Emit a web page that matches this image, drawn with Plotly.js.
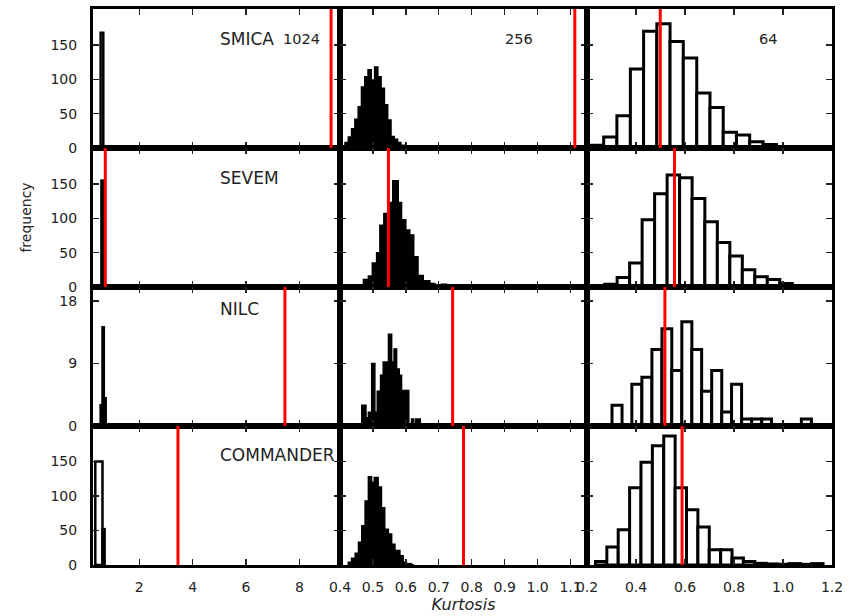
<!DOCTYPE html>
<html><head><meta charset="utf-8">
<script src="https://cdn.plot.ly/plotly-3.0.1.min.js"></script>
<style>html,body{margin:0;padding:0;background:#fff}#chart{width:859px;height:616px}</style>
</head><body><div id="chart"></div>
<script>
// ---- data ----
const methods = ['SMICA', 'SEVEM', 'NILC', 'COMMANDER'];
const resolutions = ['1024', '256', '64'];

// observed kurtosis (red lines) per method at resolutions [1024, 256, 64]
const obsSMICA = [9.19, 1.113, 0.499];
const obsSEVEM = [0.725, 0.547, 0.557];
const obsNILC = [7.46, 0.742, 0.518];
const obsCOMMANDER = [3.45, 0.775, 0.588];

// simulated kurtosis histograms: bin edges and counts
const smica1024Edges = [0.55, 0.65];
const smica1024Counts = [168];
const smica256Edges = [0.405,0.415,0.425,0.435,0.445,0.455,0.465,0.475,0.485,0.495,0.505,0.515,0.525,0.535,0.545,0.555,0.565,0.575,0.585,0.595,0.605];
const smica256Counts = [3,8,16,28,42,60,89,104,114,99,118,104,87,63,41,17,13,8,4,1];
const smica64Edges = [0.214,0.268,0.322,0.377,0.431,0.485,0.539,0.593,0.648,0.702,0.756,0.810,0.864,0.919,0.973];
const smica64Counts = [4,16,47,115,170,181,155,131,80,59,23,19,9,5];

const sevem1024Edges = [0.58, 0.65, 0.71];
const sevem1024Counts = [155, 12];
const sevem256Edges = [0.471,0.486,0.498,0.511,0.521,0.533,0.547,0.560,0.577,0.587,0.600,0.612,0.624,0.637,0.653,0.673,0.688,0.708,0.723,0.735];
const sevem256Counts = [11,16,35,50,90,107,123,155,123,98,83,76,44,17,9,5,2,4,1];
const sevem64Edges = [0.221,0.272,0.323,0.374,0.425,0.476,0.527,0.578,0.629,0.681,0.732,0.783,0.834,0.885,0.936,0.987,1.038,1.089,1.140];
const sevem64Counts = [1.5,4,14,35,98,136,163,159,129,95,65,45,25,15,11,5,1.5,1.5];

const nilc1024Edges = [0.55, 0.62, 0.67, 0.74];
const nilc1024Counts = [3, 14.2, 4];
const nilc256Edges = [0.466,0.479,0.486,0.496,0.506,0.513,0.523,0.531,0.547,0.557,0.564,0.572,0.580,0.587,0.597,0.609,0.617,0.624,0.630,0.644];
const nilc256Counts = [3,1.2,2,9,2,5,7.3,9.2,13.2,9.2,11.1,8.2,7.3,5.1,5.1,0,1,0,1];
const nilc64Edges = [0.302,0.343,0.383,0.424,0.465,0.506,0.546,0.587,0.628,0.668,0.709,0.750,0.790,0.831,0.872,0.913,0.953,0.994,1.035,1.075,1.116];
const nilc64Counts = [3,0,6,7,11,14,8,15,11,5,8,2,6,1,1,1,0,0,0,1];

const commander1024Edges = [0.35, 0.62, 0.70];
const commander1024Counts = [150, 52];
const commander256Edges = [0.425,0.435,0.446,0.456,0.466,0.476,0.486,0.496,0.504,0.516,0.526,0.536,0.547,0.557,0.567,0.582,0.592,0.602,0.617,0.622];
const commander256Counts = [4,10,17,33,57,93,128,120,127,113,83,52,45,30,21,13.5,4,2,0.5];
const commander64Edges = [0.2345,0.281,0.3274,0.3739,0.4203,0.4668,0.5132,0.5597,0.6061,0.6526,0.699,0.7455,0.7919,0.8384,0.8848,0.9313,0.9777,1.0242,1.0706,1.1171,1.1635];
const commander64Counts = [5,26,51,112,149,173,187,112,80,55,22,22,10,5,2.4,1.5,1,2,1,2];

// tick labels
const xTicksCol = [[2,4,6,8],[0.4,0.5,0.6,0.7,0.8,0.9,1.0,1.1],[0.2,0.4,0.6,0.8,1.0,1.2]];
const yTicksRow = [[0,50,100,150],[0,50,100,150],[0,9,18],[0,50,100,150]];

// ---- assembly ----
const hists = [
  [[smica1024Edges,smica1024Counts],[smica256Edges,smica256Counts],[smica64Edges,smica64Counts]],
  [[sevem1024Edges,sevem1024Counts],[sevem256Edges,sevem256Counts],[sevem64Edges,sevem64Counts]],
  [[nilc1024Edges,nilc1024Counts],[nilc256Edges,nilc256Counts],[nilc64Edges,nilc64Counts]],
  [[commander1024Edges,commander1024Counts],[commander256Edges,commander256Counts],[commander64Edges,commander64Counts]]
];
const observed = [obsSMICA, obsSEVEM, obsNILC, obsCOMMANDER];

const FONT = 'DejaVu Sans';
const PL = 93, PR = 832, PT = 9, PB = 565, WIDTH = 859, HEIGHT = 616;
const colPx = [93, 340, 587, 832];
const colDom = [0,1,2].map(c => [(colPx[c]-PL)/(PR-PL), (colPx[c+1]-PL)/(PR-PL)]);
const rowDom = [[0.75,1],[0.5,0.75],[0.25,0.5],[0,0.25]];
const xRanges = [[0.264, 9.525],[0.39999, 1.15],[0.19999, 1.20001]];
const yRanges = [[0,202.5],[0,202.5],[0,20],[0,201.5]];
const fills = ['#ffffff', '#000000', '#ffffff'];
const lineW = [2.5, 1.4, 3];

const data = [];
const layout = {
  width: WIDTH, height: HEIGHT,
  margin: {l: PL, r: WIDTH-PR, t: PT, b: HEIGHT-PB},
  paper_bgcolor: '#fff', plot_bgcolor: '#fff',
  showlegend: false, bargap: 0,
  font: {family: FONT, size: 14, color: '#222'},
  shapes: [], annotations: []
};

for (let r = 0; r < 4; r++) {
  for (let c = 0; c < 3; c++) {
    const n = r*3 + c + 1;
    const [edges, counts] = hists[r][c];
    const x = [], w = [];
    for (let i = 0; i < counts.length; i++) {
      x.push((edges[i] + edges[i+1]) / 2);
      w.push(edges[i+1] - edges[i]);
    }
    data.push({
      type: 'bar', x: x, y: counts, width: w,
      xaxis: 'x' + n, yaxis: 'y' + n,
      marker: {color: fills[c], line: {color: '#000', width: lineW[c]}},
      hoverinfo: 'skip'
    });
    const common = {
      ticks: 'inside', ticklen: 6, tickwidth: 1.3, tickcolor: '#222',
      showline: true, linewidth: 3, linecolor: '#000', mirror: 'allticks',
      showgrid: false, zeroline: false, fixedrange: true,
      tickfont: {family: FONT, size: 14, color: '#222'}
    };
    layout['xaxis' + n] = Object.assign({}, common, {
      domain: colDom[c], anchor: 'y' + n, range: xRanges[c],
      tickvals: xTicksCol[c], ticktext: xTicksCol[c].map(v => c === 0 ? String(v) : v.toFixed(1)),
      showticklabels: r === 3, ticklabelstandoff: 7
    });
    layout['yaxis' + n] = Object.assign({}, common, {
      domain: rowDom[r], anchor: 'x' + n, range: yRanges[r],
      tickvals: yTicksRow[r], ticktext: yTicksRow[r].map(String),
      showticklabels: c === 0, ticklabelstandoff: 10
    });
    layout.shapes.push({
      type: 'line', xref: 'x' + n, yref: 'y' + n + ' domain',
      x0: observed[r][c], x1: observed[r][c], y0: 0, y1: 1,
      line: {color: '#ff0000', width: 3}, layer: 'above'
    });
  }
}

layout.yaxis4.title = {text: 'frequency', font: {family: FONT, size: 14, color: '#222'}, standoff: 16};
layout.xaxis11.title = {text: '<i>Kurtosis</i>', font: {family: FONT, size: 16, color: '#222'}, standoff: 6};

const px2x = p => (p - PL) / (PR - PL);
const px2y = p => (PB - p) / (PB - PT);
function label(text, px, py, size) {
  layout.annotations.push({
    text: text, xref: 'paper', yref: 'paper', x: px2x(px), y: px2y(py),
    xanchor: 'left', yanchor: 'middle', showarrow: false,
    font: {family: FONT, size: size, color: '#222'}
  });
}
const methodY = [38.5, 178, 309, 454.5];
methods.forEach((m, r) => label(m, 218, methodY[r], 17));
label(resolutions[0], 281, 39, 14.5);
label(resolutions[1], 503, 39, 14.5);
label(resolutions[2], 757, 39, 14.5);

Plotly.newPlot('chart', data, layout, {displayModeBar: false, staticPlot: true});
</script>
</body></html>
